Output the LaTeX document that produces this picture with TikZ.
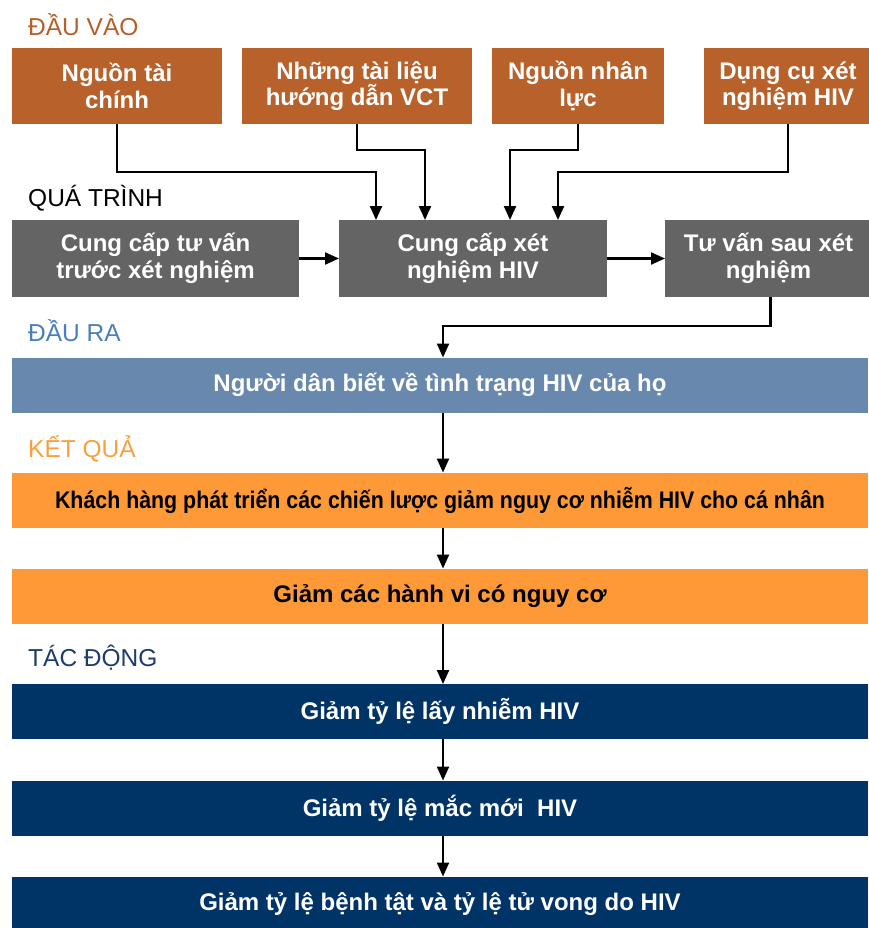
\documentclass[tikz,border=0pt]{standalone}
\usepackage{fontspec}
\setmainfont{Liberation Sans}
\usetikzlibrary{arrows.meta,positioning,calc}

\definecolor{inputfill}{HTML}{B8612A}
\definecolor{inputtitle}{HTML}{B5602A}
\definecolor{procfill}{HTML}{646464}
\definecolor{outfill}{HTML}{6889AD}
\definecolor{outtitle}{HTML}{4A7EBB}
\definecolor{resfill}{HTML}{FD9A37}
\definecolor{restitle}{HTML}{F8A040}
\definecolor{impfill}{HTML}{003366}
\definecolor{imptitle}{HTML}{1F3C6E}

\tikzset{
  box/.style={rectangle, inner sep=0pt, outer sep=0pt, align=center,
    font=\fontsize{24}{26.5}\selectfont\bfseries, text=white},
  inbox/.style={box, fill=inputfill, minimum height=76pt},
  procbox/.style={box, fill=procfill, minimum height=77pt},
  bar/.style={box, minimum width=856pt, minimum height=55pt},
  outbar/.style={bar, fill=outfill},
  resbar/.style={bar, fill=resfill, text=black},
  impbar/.style={bar, fill=impfill},
  stage/.style={anchor=west, inner sep=0pt, font=\fontsize{24.5}{28}\selectfont},
  conn/.style={draw=black, line width=2.2pt, -{Triangle[length=14pt,width=12pt]}},
}

\begin{document}
\begin{tikzpicture}[x=1pt,y=-1pt]
  \useasboundingbox (0,0) rectangle (868,928);

  % stage headings
  \node[stage, text=inputtitle] (hin)  at (28,25)  {ĐẦU VÀO};
  \node[stage, text=black]      (hpr)  at (28,198) {QUÁ TRÌNH};
  \node[stage, text=outtitle]   (hout) at (28,331) {ĐẦU RA};
  \node[stage, text=restitle]   (hres) at (28,449) {KẾT QUẢ};
  \node[stage, text=imptitle]   (himp) at (28,658) {TÁC ĐỘNG};

  % inputs
  \node[inbox, minimum width=210pt] (in1) at (117,86) {Nguồn tài\\chính};
  \node[inbox, minimum width=230pt] (in2) at (357,86) {Những tài liệu\\hướng dẫn VCT};
  \node[inbox, minimum width=172pt] (in3) at (578,86) {Nguồn nhân\\lực};
  \node[inbox, minimum width=168pt] (in4) at (788,86) {Dụng cụ xét\\nghiệm HIV};

  % process
  \node[procbox, minimum width=287pt] (p1) at (155.5,258.5) {Cung cấp tư vấn\\trước xét nghiệm};
  \node[procbox, minimum width=268pt] (p2) at (473,258.5) {Cung cấp xét\\nghiệm HIV};
  \node[procbox, minimum width=207pt] (p3) at (768.5,258.5) {Tư vấn sau xét\\nghiệm};

  % output, outcomes, impact
  \node[outbar] (o1) at (440,385)   {Người dân biết về tình trạng HIV của họ};
  \node[resbar] (r1) at (440,500)   {\scalebox{0.89}[1]{Khách hàng phát triển các chiến lược giảm nguy cơ nhiễm HIV cho cá nhân}};
  \node[resbar] (r2) at (440,596)   {Giảm các hành vi có nguy cơ};
  \node[impbar] (i1) at (440,711.5) {Giảm tỷ lệ lấy nhiễm HIV};
  \node[impbar] (i2) at (440,808)   {Giảm tỷ lệ mắc mới~~HIV};
  \node[impbar] (i3) at (440,904)   {Giảm tỷ lệ bệnh tật và tỷ lệ tử vong do HIV};

  % spine of the vertical chain
  \coordinate (spine) at (443,0);

  % inputs feed the testing step
  \draw[conn] (in1.south) -- ++(0,48) -| ([xshift=37pt]p2.north west);
  \draw[conn] (in2.south) -- ++(0,26) -| ([xshift=86pt]p2.north west);
  \draw[conn] (in3.south) -- ++(0,26) -| ([xshift=171pt]p2.north west);
  \draw[conn] (in4.south) -- ++(0,48) -| ([xshift=219pt]p2.north west);

  % process chain
  \draw[conn] (p1.east) -- (p2.west);
  \draw[conn] (p2.east) -- (p3.west);
  \draw[conn] ([xshift=2pt]p3.south) -- ++(0,29) -| (o1.north -| spine);

  % results chain
  \draw[conn] (o1.south -| spine) -- (r1.north -| spine);
  \draw[conn] (r1.south -| spine) -- (r2.north -| spine);
  \draw[conn] (r2.south -| spine) -- (i1.north -| spine);
  \draw[conn] (i1.south -| spine) -- (i2.north -| spine);
  \draw[conn] (i2.south -| spine) -- (i3.north -| spine);
\end{tikzpicture}
\end{document}
